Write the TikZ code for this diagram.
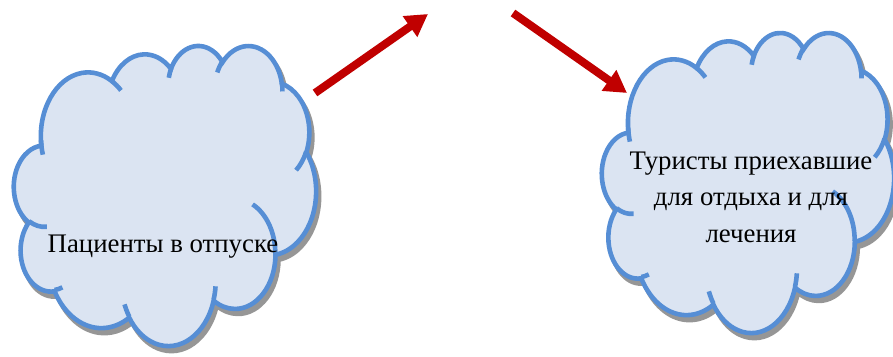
\documentclass[tikz,border=0pt]{standalone}
\usepackage{fontspec}
\setmainfont{Liberation Serif}
\usetikzlibrary{arrows.meta}
\definecolor{cloudfill}{RGB}{219,228,242}
\definecolor{cloudline}{RGB}{86,142,213}
\definecolor{cloudshadow}{RGB}{150,150,150}
\definecolor{arrowred}{RGB}{192,0,0}
% Office "cloud" preset geometry, 43200 units -> 43.2
\gdef\cldmain{}
\gdef\cldinner{}
\newcommand\cldarc[5]{% target, wR, hR, stAng, swAng (visual angles)
  \pgfmathsetmacro\cldS{atan2((#2)*sin(#4),(#3)*cos(#4))}%
  \pgfmathsetmacro\cldE{atan2((#2)*sin((#4)+(#5)),(#3)*cos((#4)+(#5)))}%
  \pgfmathsetmacro\cldD{\cldE-\cldS+360*(\cldE<\cldS)}%
  \xdef#1{#1 arc[x radius=#2,y radius=#3,start angle=\cldS,delta angle=\cldD]}}
\newcommand\cldmove[2]{\xdef\cldinner{\cldinner (#1,#2)}}
\cldarc\cldmain{6.753}{9.190}{-190.4875}{123.7805}
\cldarc\cldmain{5.333}{7.267}{-144.1024}{89.9452}
\cldarc\cldmain{4.365}{5.945}{-145.8079}{99.7230}
\cldarc\cldmain{4.857}{6.595}{-130.9861}{117.2417}
\cldarc\cldmain{5.333}{7.273}{-78.7089}{109.0269}
\cldarc\cldmain{6.775}{9.220}{-46.2673}{130.2690}
\cldarc\cldmain{5.785}{7.867}{0.6250}{114.0333}
\cldarc\cldmain{6.752}{9.215}{22.4516}{115.1726}
\cldarc\cldmain{7.720}{10.543}{66.2426}{75.7110}
\cldarc\cldmain{4.360}{5.918}{-274.9421}{146.7356}
\cldarc\cldmain{4.345}{5.945}{-246.8285}{152.5189}
\cldmove{4.693}{26.177}\cldarc\cldinner{4.345}{5.945}{86.7420}{26.4295}
\cldmove{6.928}{34.899}\cldarc\cldinner{4.360}{5.918}{73.6105}{11.4475}
\cldmove{16.478}{39.090}\cldarc\cldinner{6.752}{9.215}{137.6242}{14.0811}
\cldmove{28.827}{34.751}\cldarc\cldinner{6.752}{9.215}{6.4533}{15.9984}
\cldmove{34.129}{22.954}\cldarc\cldinner{5.785}{7.867}{-70.2924}{70.9174}
\cldmove{41.798}{15.354}\cldarc\cldinner{5.333}{7.273}{30.3180}{27.7515}
\cldmove{38.324}{5.426}\cldarc\cldinner{4.857}{6.595}{-13.7443}{14.8589}
\cldmove{29.078}{3.952}\cldarc\cldinner{4.857}{6.595}{-149.1815}{18.1954}
\cldmove{22.141}{4.720}\cldarc\cldinner{4.365}{5.945}{-163.4943}{17.6864}
\cldmove{14.000}{5.192}\cldarc\cldinner{6.753}{9.190}{-66.7070}{12.3194}
\cldmove{4.127}{15.789}\cldarc\cldinner{6.753}{9.190}{158.1617}{17.1532}
\tikzset{
  cloudbody/.style={fill=cloudfill,draw=cloudline,line width=4.6pt},
  cloudshade/.style={fill=cloudshadow,draw=cloudshadow,line width=4.6pt},
  cloudmark/.style={draw=cloudline,line width=4.6pt},
  redarrow/.style={draw=arrowred,line width=8pt,-{Triangle[length=22pt,width=24pt]}},
  cloudtext/.style={font=\fontsize{26.8}{36.5}\selectfont,align=center,inner sep=0pt}
}
\newcommand\drawcloud[4]{% x0 y0 w h in px
  \begin{scope}[shift={(#1+3,#2+5)},x=#3/43.2*1pt,y=-#4/43.2*1pt]
    \path[cloudshade] (3.9,14.37) \cldmain -- cycle;
  \end{scope}
  \begin{scope}[shift={(#1,#2)},x=#3/43.2*1pt,y=-#4/43.2*1pt]
    \path[cloudbody] (3.9,14.37) \cldmain -- cycle;
    \path[cloudmark] \cldinner;
  \end{scope}}
\begin{document}
\begin{tikzpicture}[x=1pt,y=-1pt]
\useasboundingbox (0,0) rectangle (893,356);
\drawcloud{14}{45}{302}{300}
\drawcloud{602}{32}{292}{300}
\node[cloudtext,anchor=base] (pat) at (163,252) {Пациенты в отпуске};
\node[cloudtext,anchor=center] (tur) at (751,197) {Туристы приехавшие\\для отдыха и для\\лечения};
\coordinate (a1s) at (315,93);
\coordinate (a1e) at (428,14);
\coordinate (a2s) at (513,13);
\coordinate (a2e) at (627,93);
\draw[redarrow] (a1s) -- (a1e);
\draw[redarrow] (a2s) -- (a2e);
\end{tikzpicture}
\end{document}
